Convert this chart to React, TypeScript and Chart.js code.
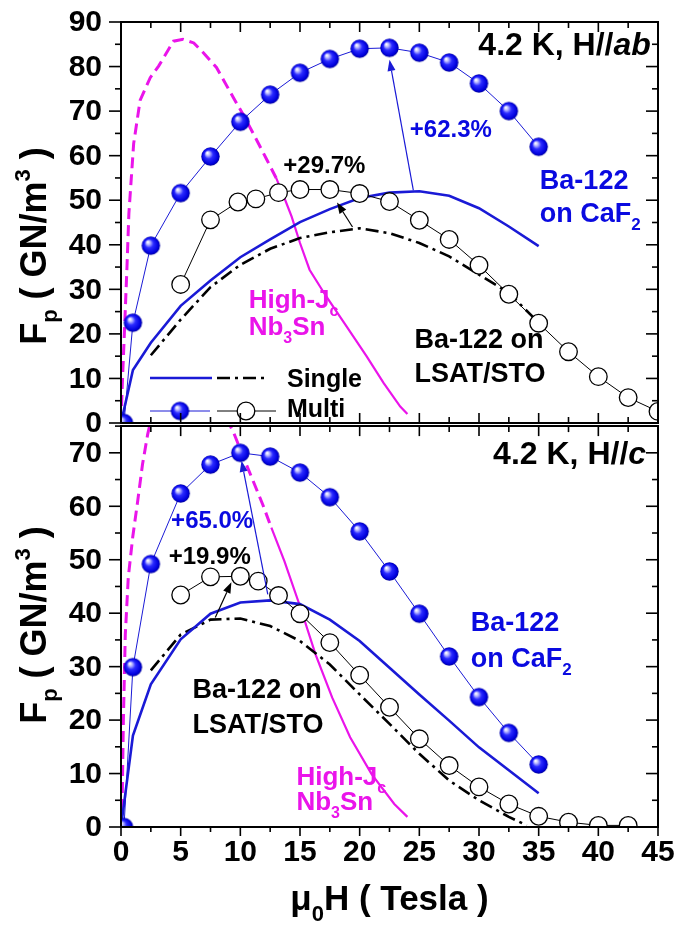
import React, { useEffect, useRef } from "react";
import { Chart, registerables } from "chart.js";

Chart.register(...registerables);

const FONT = '"Liberation Sans", Arial, Helvetica, sans-serif';
const BLACK = "#000000";
const BLUE_TEXT = "#0a0ae0";
const BLUE_LINE = "#1a1ad6";
const MAGENTA = "#ea14ea";

// ---------- axes ----------
const xTickValues = [0, 5, 10, 15, 20, 25, 30, 35, 40, 45];
const abTickValues = [0, 10, 20, 30, 40, 50, 60, 70, 80, 90];
const cTickValues = [0, 10, 20, 30, 40, 50, 60, 70];

// ---------- top panel: 4.2 K, H//ab ----------
const abMultiCaF2X = [0.25, 1, 2.5, 5, 7.5, 10, 12.5, 15, 17.5, 20, 22.5, 25, 27.5, 30, 32.5, 35];
const abMultiCaF2Y = [0, 22.5, 39.8, 51.6, 59.8, 67.6, 73.7, 78.6, 81.7, 84.0, 84.2, 83.1, 80.9, 76.2, 70.0, 62.0];
const abMultiLsatX = [5, 7.5, 9.8, 11.3, 13.2, 15, 17.5, 20, 22.5, 25, 27.5, 30, 32.5, 35, 37.5, 40, 42.5, 45];
const abMultiLsatY = [31.1, 45.6, 49.6, 50.3, 51.7, 52.4, 52.4, 51.5, 49.7, 45.5, 41.2, 35.4, 28.9, 22.4, 16.0, 10.4, 5.7, 2.6];
const abSingleCaF2X = [0, 1, 2.5, 5, 7.5, 10, 12.5, 15, 17.5, 20, 22.5, 25, 27.5, 30, 32.5, 35];
const abSingleCaF2Y = [0, 11.9, 18, 26.3, 32, 37.2, 41.2, 45.1, 48, 50.5, 51.7, 52, 51, 48.2, 44.1, 39.7];
const abSingleLsatX = [2.5, 5, 7.5, 10, 12.5, 15, 17.5, 20, 22.5, 25, 27.5, 30, 32.5, 35];
const abSingleLsatY = [15.2, 23.2, 30.5, 35.5, 39.1, 41.5, 42.8, 43.7, 42.6, 40.4, 37.4, 33.3, 29.2, 22.5];
const abNb3SnX = [0, 0.1, 0.28, 0.5, 0.66, 1.06, 1.6, 2.45, 3.15, 4.4, 5.2, 6.1, 6.9, 8.0, 9.4, 10.2, 11.1, 12.2, 13.0, 13.75, 14.3, 15.0, 15.8, 17.2, 18.9, 20.6, 22.0, 23.4, 24.0];
const abNb3SnY = [0, 8, 20, 35, 47, 62.7, 72.4, 77.5, 80.1, 85.7, 86.1, 85.3, 83.1, 79.8, 73.1, 69.4, 64.9, 59.2, 55, 50.1, 46.3, 40.4, 34.4, 28.4, 21.7, 14.9, 9, 3.7, 2];

// ---------- bottom panel: 4.2 K, H//c ----------
const cMultiCaF2X = [0.25, 1, 2.5, 5, 7.5, 10, 12.5, 15, 17.5, 20, 22.5, 25, 27.5, 30, 32.5, 35];
const cMultiCaF2Y = [0, 29.9, 49.2, 62.4, 67.8, 70.0, 69.3, 66.3, 61.7, 55.3, 47.8, 39.9, 31.9, 24.3, 17.6, 11.7];
const cMultiLsatX = [5, 7.5, 10, 11.5, 13.2, 15, 17.5, 20, 22.5, 25, 27.5, 30, 32.5, 35, 37.5, 40, 42.5];
const cMultiLsatY = [43.4, 46.8, 46.9, 46.0, 43.3, 39.9, 34.5, 28.4, 22.4, 16.5, 11.5, 7.5, 4.3, 2.0, 0.9, 0.3, 0.3];
const cSingleCaF2X = [0, 1, 2.5, 5, 7.5, 10, 12.5, 15, 17.5, 20, 22.5, 25, 27.5, 30, 32.5, 35];
const cSingleCaF2Y = [0, 17.1, 26.7, 35.1, 39.9, 42.0, 42.4, 41.7, 38.8, 34.8, 29.8, 24.8, 19.9, 14.9, 10.6, 6.3];
const cSingleLsatX = [2.5, 5, 7.5, 10, 12.5, 15, 17.5, 20, 22.5, 25, 27.5, 30, 32.5, 34];
const cSingleLsatY = [29.3, 36.0, 38.8, 39.0, 37.6, 34.8, 30.4, 24.8, 19.3, 13.7, 8.7, 5.0, 1.9, 0.3];
const cNb3SnX = [0, 0.1, 0.2, 0.36, 0.61, 0.98, 1.4, 1.8, 2.23, 2.6, 3.15, 4.4, 5.2, 6.1, 6.9, 8.0, 9.4, 10.4, 11.9, 12.6, 13.7, 15, 16.3, 17.7, 19.2, 21, 22.9, 24];
const cNb3SnY = [0, 5, 20, 36, 46.7, 54.2, 61, 67.8, 73.4, 77, 80.1, 85.7, 86.1, 85.3, 83.1, 79.8, 74, 68.4, 60.2, 56, 49.7, 41.3, 32.3, 24.2, 16.8, 9.9, 4.3, 1.9];

// ---------- helpers ----------
type Run = { t: string; s?: "sub" | "sup" | "i" };
type Note = { x: number; y: number; runs: Run[]; color: string; size: number; align?: "left" | "right" | "center" };
type Arrow = { x1: number; y1: number; x2: number; y2: number; color: string };

function runFont(r: Run, size: number) {
  if (r.s === "sub" || r.s === "sup") return `bold ${Math.round(size * 0.62)}px ${FONT}`;
  if (r.s === "i") return `italic bold ${size}px ${FONT}`;
  return `bold ${size}px ${FONT}`;
}

function drawRuns(ctx: CanvasRenderingContext2D, runs: Run[], x: number, y: number, size: number, color: string, align: string) {
  ctx.save();
  ctx.fillStyle = color;
  ctx.textBaseline = "alphabetic";
  ctx.textAlign = "left";
  const widths = runs.map((r) => {
    ctx.font = runFont(r, size);
    return ctx.measureText(r.t).width;
  });
  const total = widths.reduce((a, b) => a + b, 0);
  let cx = align === "right" ? x - total : align === "center" ? x - total / 2 : x;
  runs.forEach((r, i) => {
    ctx.font = runFont(r, size);
    const dy = r.s === "sub" ? size * 0.3 : r.s === "sup" ? -size * 0.45 : 0;
    ctx.fillText(r.t, cx, y + dy);
    cx += widths[i];
  });
  ctx.restore();
}

function drawArrow(ctx: CanvasRenderingContext2D, x1: number, y1: number, x2: number, y2: number, color: string) {
  const ang = Math.atan2(y2 - y1, x2 - x1);
  const c = Math.cos(ang), s = Math.sin(ang);
  const L = 11, W = 4;
  ctx.save();
  ctx.setLineDash([]);
  ctx.strokeStyle = color;
  ctx.fillStyle = color;
  ctx.lineWidth = 1.2;
  ctx.beginPath();
  ctx.moveTo(x1, y1);
  ctx.lineTo(x2 - L * c, y2 - L * s);
  ctx.stroke();
  ctx.beginPath();
  ctx.moveTo(x2, y2);
  ctx.lineTo(x2 - L * c + W * s, y2 - L * s - W * c);
  ctx.lineTo(x2 - L * c - W * s, y2 - L * s + W * c);
  ctx.closePath();
  ctx.fill();
  ctx.restore();
}

function makeBall(r: number) {
  const c = document.createElement("canvas");
  const s = Math.ceil(r * 2) + 2;
  c.width = s;
  c.height = s;
  const g = c.getContext("2d")!;
  const cx = s / 2, cy = s / 2;
  const grad = g.createRadialGradient(cx - r * 0.35, cy - r * 0.4, r * 0.05, cx, cy, r);
  grad.addColorStop(0, "#ffffff");
  grad.addColorStop(0.18, "#b8b8ff");
  grad.addColorStop(0.45, "#2a2aff");
  grad.addColorStop(0.85, "#0000dd");
  grad.addColorStop(1, "#00009a");
  g.fillStyle = grad;
  g.beginPath();
  g.arc(cx, cy, r, 0, Math.PI * 2);
  g.fill();
  return c;
}

function zip(xs: number[], ys: number[]) {
  return xs.map((x, i) => ({ x, y: ys[i] }));
}

function seg(ctx: CanvasRenderingContext2D, x1: number, y1: number, x2: number, y2: number) {
  ctx.beginPath();
  ctx.moveTo(x1, y1);
  ctx.lineTo(x2, y2);
  ctx.stroke();
}

type PanelSpec = {
  key: string;
  top: number;
  height: number;
  yMax: number;
  yTicks: number[];
  padTop: number;
  padBottom: number;
  showX: boolean;
  series: { mc: [number[], number[]]; ml: [number[], number[]]; sc: [number[], number[]]; sl: [number[], number[]]; nb: [number[], number[]] };
  dashEnd: number;
  notes: Note[];
  arrows: Arrow[];
  legend: boolean;
  yTitleY: number;
};

const NOTE = 26;
const HEAD = 32;

const panels: PanelSpec[] = [
  {
    key: "ab",
    top: 0,
    height: 440,
    yMax: 90,
    yTicks: abTickValues,
    padTop: 22,
    padBottom: 17,
    showX: false,
    series: {
      mc: [abMultiCaF2X, abMultiCaF2Y],
      ml: [abMultiLsatX, abMultiLsatY],
      sc: [abSingleCaF2X, abSingleCaF2Y],
      sl: [abSingleLsatX, abSingleLsatY],
      nb: [abNb3SnX, abNb3SnY],
    },
    dashEnd: 13.0,
    notes: [
      { x: 44.4, y: 82.5, runs: [{ t: "4.2 K, H//" }, { t: "ab", s: "i" }], color: BLACK, size: HEAD, align: "right" },
      { x: 24.2, y: 64.2, runs: [{ t: "+62.3%" }], color: BLUE_TEXT, size: 24 },
      { x: 13.6, y: 56, runs: [{ t: "+29.7%" }], color: BLACK, size: 24 },
      { x: 35.1, y: 52.6, runs: [{ t: "Ba-122" }], color: BLUE_TEXT, size: 27 },
      { x: 35.1, y: 45.1, runs: [{ t: "on CaF" }, { t: "2", s: "sub" }], color: BLUE_TEXT, size: 27 },
      { x: 10.7, y: 25.8, runs: [{ t: "High-J" }, { t: "c", s: "sub" }], color: MAGENTA, size: NOTE },
      { x: 10.7, y: 19.7, runs: [{ t: "Nb" }, { t: "3", s: "sub" }, { t: "Sn" }], color: MAGENTA, size: NOTE },
      { x: 24.6, y: 16.9, runs: [{ t: "Ba-122 on" }], color: BLACK, size: 27 },
      { x: 24.6, y: 9.1, runs: [{ t: "LSAT/STO" }], color: BLACK, size: 27 },
    ],
    arrows: [
      { x1: 24.5, y1: 52.2, x2: 22.5, y2: 81.5, color: BLUE_LINE },
      { x1: 19.4, y1: 44.0, x2: 18.1, y2: 49.5, color: BLACK },
    ],
    legend: true,
    yTitleY: 246,
  },
  {
    key: "c",
    top: 416,
    height: 513,
    yMax: 75,
    yTicks: cTickValues,
    padTop: 7,
    padBottom: 102,
    showX: true,
    series: {
      mc: [cMultiCaF2X, cMultiCaF2Y],
      ml: [cMultiLsatX, cMultiLsatY],
      sc: [cSingleCaF2X, cSingleCaF2Y],
      sl: [cSingleLsatX, cSingleLsatY],
      nb: [cNb3SnX, cNb3SnY],
    },
    dashEnd: 12.6,
    notes: [
      { x: 44.0, y: 68, runs: [{ t: "4.2 K, H//" }, { t: "c", s: "i" }], color: BLACK, size: HEAD, align: "right" },
      { x: 4.2, y: 55.9, runs: [{ t: "+65.0%" }], color: BLUE_TEXT, size: 24 },
      { x: 4.0, y: 49.2, runs: [{ t: "+19.9%" }], color: BLACK, size: 24 },
      { x: 29.3, y: 36.6, runs: [{ t: "Ba-122" }], color: BLUE_TEXT, size: 27 },
      { x: 29.3, y: 29.9, runs: [{ t: "on CaF" }, { t: "2", s: "sub" }], color: BLUE_TEXT, size: 27 },
      { x: 6.0, y: 24.1, runs: [{ t: "Ba-122 on" }], color: BLACK, size: 27 },
      { x: 6.0, y: 17.5, runs: [{ t: "LSAT/STO" }], color: BLACK, size: 27 },
      { x: 14.7, y: 7.9, runs: [{ t: "High-J" }, { t: "c", s: "sub" }], color: MAGENTA, size: NOTE },
      { x: 14.7, y: 3.2, runs: [{ t: "Nb" }, { t: "3", s: "sub" }, { t: "Sn" }], color: MAGENTA, size: NOTE },
    ],
    arrows: [
      { x1: 12.3, y1: 43.5, x2: 10.1, y2: 68.5, color: BLUE_LINE },
      { x1: 7.9, y1: 39.2, x2: 9.25, y2: 45.8, color: BLACK },
    ],
    legend: false,
    yTitleY: 209,
  },
];

const TICK_FONT = `bold 30px ${FONT}`;

function buildConfig(p: PanelSpec, ball: HTMLCanvasElement): any {
  const notesPlugin = {
    id: "notes" + p.key,
    afterDatasetsDraw(chart: any) {
      const ctx: CanvasRenderingContext2D = chart.ctx;
      const a = chart.chartArea;
      const xs = chart.scales.x, ys = chart.scales.y;
      p.arrows.forEach((ar) =>
        drawArrow(ctx, xs.getPixelForValue(ar.x1), ys.getPixelForValue(ar.y1), xs.getPixelForValue(ar.x2), ys.getPixelForValue(ar.y2), ar.color)
      );
      p.notes.forEach((n) =>
        drawRuns(ctx, n.runs, xs.getPixelForValue(n.x), ys.getPixelForValue(n.y), n.size, n.color, n.align || "left")
      );
      if (p.legend) {
        const l0 = a.left + 29;
        const r1 = a.bottom - 45, r2 = a.bottom - 12;
        ctx.save();
        ctx.setLineDash([]);
        ctx.strokeStyle = BLUE_LINE;
        ctx.lineWidth = 2.6;
        seg(ctx, l0, r1, l0 + 62, r1);
        ctx.strokeStyle = BLACK;
        ctx.setLineDash([13, 5, 3, 5]);
        seg(ctx, l0 + 67, r1, l0 + 118, r1);
        ctx.setLineDash([]);
        ctx.lineWidth = 1;
        ctx.strokeStyle = BLUE_LINE;
        seg(ctx, l0, r2, l0 + 60, r2);
        ctx.drawImage(ball, l0 + 30 - ball.width / 2, r2 - ball.height / 2);
        ctx.strokeStyle = BLACK;
        seg(ctx, l0 + 67, r2, l0 + 126, r2);
        ctx.fillStyle = "#ffffff";
        ctx.lineWidth = 1.3;
        ctx.beginPath();
        ctx.arc(l0 + 96, r2, 8.8, 0, Math.PI * 2);
        ctx.fill();
        ctx.stroke();
        ctx.restore();
        drawRuns(ctx, [{ t: "Single" }], l0 + 137, r1 + 9, 25, BLACK, "left");
        drawRuns(ctx, [{ t: "Multi" }], l0 + 137, r2 + 6, 25, BLACK, "left");
      }
    },
  };

  const framePlugin = {
    id: "frame" + p.key,
    afterDraw(chart: any) {
      const ctx: CanvasRenderingContext2D = chart.ctx;
      const a = chart.chartArea;
      const xs = chart.scales.x, ys = chart.scales.y;
      ctx.save();
      ctx.setLineDash([]);
      ctx.globalAlpha = 1;
      ctx.strokeStyle = "#000000";
      ctx.lineWidth = 2;
      ctx.beginPath();
      ctx.rect(a.left, a.top, a.right - a.left, a.bottom - a.top);
      ctx.stroke();
      ctx.lineWidth = 1.6;
      for (let v = 0; v <= p.yMax + 1e-6; v += 5) {
        const py = ys.getPixelForValue(v);
        const L = v % 10 === 0 ? 12 : 6;
        seg(ctx, a.left - L, py, a.left, py);
        seg(ctx, a.right - L, py, a.right, py);
      }
      for (let v = 0; v <= 45 + 1e-6; v += 2.5) {
        const px = xs.getPixelForValue(v);
        const major = v % 5 === 0;
        const L = major ? 10 : 6;
        seg(ctx, px, a.top, px, a.top + L);
        if (p.showX) seg(ctx, px, a.bottom, px, a.bottom + (major ? 9 : 5));
        else seg(ctx, px, a.bottom, px, a.bottom - L);
      }
      // tick labels
      ctx.fillStyle = "#000000";
      ctx.font = TICK_FONT;
      ctx.textAlign = "right";
      ctx.textBaseline = "middle";
      p.yTicks.forEach((v) => ctx.fillText(String(v), a.left - 19, ys.getPixelForValue(v) + 1));
      if (p.showX) {
        ctx.textAlign = "center";
        xTickValues.forEach((v) => ctx.fillText(String(v), xs.getPixelForValue(v), a.bottom + 26));
      }
      ctx.restore();

      // y title
      ctx.save();
      ctx.translate(46, p.yTitleY);
      ctx.rotate(-Math.PI / 2);
      drawRuns(ctx, [{ t: "F" }, { t: "p", s: "sub" }, { t: " ( GN/m" }, { t: "3", s: "sup" }, { t: " )" }], 0, 0, 36, BLACK, "center");
      ctx.restore();

      if (p.showX) {
        drawRuns(ctx, [{ t: "\u03bc" }, { t: "0", s: "sub" }, { t: "H ( Tesla )" }], (a.left + a.right) / 2, a.bottom + 83, 35, BLACK, "center");
      }
    },
  };

  return {
    type: "line",
    data: {
      datasets: [
        {
          label: "Multi on CaF2",
          data: zip(p.series.mc[0], p.series.mc[1]),
          borderColor: BLUE_LINE,
          borderWidth: 1,
          pointStyle: ball,
          pointRadius: 9,
          clip: 0,
        },
        {
          label: "Multi on LSAT/STO",
          data: zip(p.series.ml[0], p.series.ml[1]),
          borderColor: BLACK,
          borderWidth: 1,
          pointRadius: 8.8,
          pointBackgroundColor: "#ffffff",
          pointBorderColor: BLACK,
          pointBorderWidth: 1.3,
          clip: 0,
        },
        {
          label: "Single on CaF2",
          data: zip(p.series.sc[0], p.series.sc[1]),
          borderColor: BLUE_LINE,
          borderWidth: 2.6,
          pointRadius: 0,
          clip: 0,
        },
        {
          label: "Single on LSAT/STO",
          data: zip(p.series.sl[0], p.series.sl[1]),
          borderColor: BLACK,
          borderWidth: 2.6,
          borderDash: [13, 5, 3, 5],
          pointRadius: 0,
          clip: 0,
        },
        {
          label: "High-Jc Nb3Sn",
          data: zip(p.series.nb[0], p.series.nb[1]),
          borderColor: MAGENTA,
          borderWidth: 2.2,
          pointRadius: 0,
          clip: 0,
          segment: {
            borderDash: (ctx: any) => (ctx.p1.parsed.x <= p.dashEnd + 1e-6 ? [11, 6] : []),
            borderWidth: (ctx: any) => (ctx.p1.parsed.x <= p.dashEnd + 1e-6 ? 3 : 2.2),
          },
        },
      ],
    },
    options: {
      responsive: false,
      animation: false,
      events: [],
      layout: { padding: { top: p.padTop, bottom: p.padBottom, left: 121, right: 27 } },
      elements: { line: { tension: 0 } },
      plugins: { legend: { display: false }, tooltip: { enabled: false }, title: { display: false } },
      scales: {
        x: { type: "linear", min: 0, max: 45, display: false },
        y: { type: "linear", min: 0, max: p.yMax, display: false },
      },
    },
    plugins: [notesPlugin, framePlugin],
  };
}

function PanelCanvas({ spec }: { spec: PanelSpec }) {
  const ref = useRef<HTMLCanvasElement | null>(null);
  useEffect(() => {
    if (!ref.current) return;
    const ball = makeBall(9.2);
    const chart = new Chart(ref.current, buildConfig(spec, ball));
    return () => chart.destroy();
  }, [spec]);
  return (
    <canvas
      ref={ref}
      width={685}
      height={spec.height}
      style={{ position: "absolute", left: 0, top: spec.top, width: 685, height: spec.height }}
    />
  );
}

export default function App() {
  return (
    <div style={{ position: "absolute", left: 0, top: 0, width: 685, height: 929, background: "#ffffff", overflow: "hidden" }}>
      {panels.map((p) => (
        <PanelCanvas key={p.key} spec={p} />
      ))}
    </div>
  );
}
